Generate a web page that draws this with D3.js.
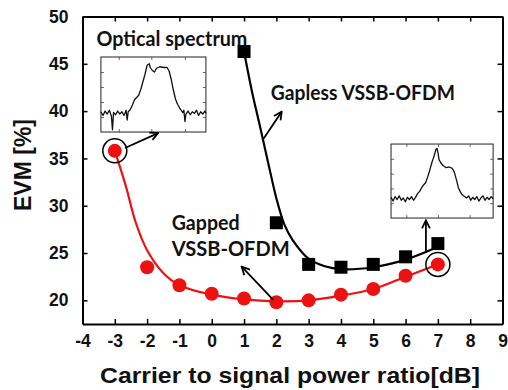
<!DOCTYPE html>
<html>
<head>
<meta charset="utf-8">
<script src="https://cdn.jsdelivr.net/npm/d3@7"></script>
<style>
  body { margin: 0; background: #fff; }
  svg { display: block; }
</style>
</head>
<body>
<script>
// measured points
const ratioDb = [-3, -2, -1, 0, 1, 2, 3, 4, 5, 6, 7];
const gappedEvm = [35.8, 23.5, 21.6, 20.7, 20.2, 19.8, 20.0, 20.6, 21.2, 22.6, 23.8];
const gaplessDb = [1, 2, 3, 4, 5, 6, 7];
const gaplessEvm = [46.3, 28.2, 23.8, 23.5, 23.8, 24.6, 26.0];

// fitted curves
const gappedFitX = [-3, -2.66, -2.35, -2, -1.5, -1, 0, 1, 2, 3, 4, 5, 6, 7];
const gappedFitY = [35.8, 32.1, 28.2, 25.3, 22.9, 21.6, 20.6, 20.1, 19.9, 20.0, 20.5, 21.2, 22.5, 23.8];
const gaplessFitX = [1, 1.25, 1.5, 1.75, 2, 2.25, 2.5, 3, 3.5, 4, 5, 6, 6.9];
const gaplessFitY = [46.3, 42.0, 38.3, 34.5, 30.8, 28.0, 26.4, 24.4, 23.6, 23.3, 23.5, 24.3, 25.5];

const xTicks = [-4, -3, -2, -1, 0, 1, 2, 3, 4, 5, 6, 7, 8, 9];
const yTicks = [20, 25, 30, 35, 40, 45, 50];

// inset spectra (relative units 0-100)
const spec1 = [[0,27],[2,22],[4,28],[6,24],[8,29],[10,21],[11,3],[12,26],[14,23],[16,28],[18,24],[20,27],[22,22],[24,29],[25,16],[26,27],[28,30],[30,36],[32,43],[34,46],[36,49],[38,57],[40,67],[42,77],[44,89],[46,91],[47,86],[49,82],[51,80],[53,85],[56,87],[60,86],[63,86],[65,81],[67,70],[69,56],[71,44],[73,37],[75,32],[77,28],[78,26],[79,29],[80,14],[81,24],[83,28],[85,23],[87,27],[89,25],[91,29],[93,22],[95,27],[97,24],[99,28],[100,25]];
const spec2 = [[0,28],[2,23],[4,29],[6,25],[8,30],[10,24],[12,27],[14,22],[16,28],[18,25],[20,29],[22,24],[24,28],[26,33],[28,36],[30,41],[32,45],[34,48],[36,56],[38,65],[40,75],[42,83],[44,93],[45,94],[46,88],[47,79],[49,74],[51,71],[54,68],[57,69],[60,67],[62,62],[64,52],[66,41],[68,35],[70,31],[72,29],[74,27],[76,30],[78,24],[80,28],[82,25],[84,29],[86,23],[88,27],[90,30],[92,24],[94,28],[96,25],[98,29],[100,26]];

const width = 508, height = 390;
const plotLeft = 82.5, plotRight = 502.5, plotTop = 16.5, plotBottom = 324;
const red = '#ee1111';

const svg = d3.select('body').append('svg')
    .attr('width', width)
    .attr('height', height)
    .style('font-family', 'Liberation Sans, Arial, sans-serif');

const defs = svg.append('defs');
defs.append('marker')
    .attr('id', 'head')
    .attr('viewBox', '0 0 10 10')
    .attr('refX', 9).attr('refY', 5)
    .attr('markerWidth', 5.5).attr('markerHeight', 5.5)
    .attr('markerUnits', 'strokeWidth')
    .attr('orient', 'auto')
  .append('path')
    .attr('d', 'M1,1 L9,5 L1,9')
    .attr('fill', 'none')
    .attr('stroke', '#000')
    .attr('stroke-width', 1.8);

const x = d3.scaleLinear().domain([-4, 9]).range([plotLeft, plotRight]);
const y = d3.scaleLinear().domain([17.5, 50]).range([plotBottom, plotTop]);

// axes
function styleAxis(g) {
  g.select('.domain').attr('stroke-width', 2);
  g.selectAll('.tick line').attr('stroke-width', 1.5);
  g.selectAll('text')
    .attr('font-size', 17.5)
    .attr('font-weight', 'bold')
    .attr('fill', '#111');
}
svg.append('g')
    .attr('transform', `translate(0,${plotBottom})`)
    .call(d3.axisBottom(x).tickValues(xTicks).tickFormat(d => String(d))
      .tickSizeInner(-5).tickSizeOuter(0).tickPadding(11))
    .call(styleAxis);
svg.append('g')
    .attr('transform', `translate(0,${plotTop})`)
    .call(d3.axisTop(x).tickValues(xTicks).tickSizeInner(-5).tickSizeOuter(0).tickFormat(''))
    .call(styleAxis);
svg.append('g')
    .attr('transform', `translate(${plotLeft},0)`)
    .call(d3.axisLeft(y).tickValues(yTicks).tickFormat(d => String(d))
      .tickSizeInner(-5).tickSizeOuter(0).tickPadding(14))
    .call(styleAxis);
svg.append('g')
    .attr('transform', `translate(${plotRight},0)`)
    .call(d3.axisRight(y).tickValues(yTicks).tickSizeInner(-5).tickSizeOuter(0).tickFormat(''))
    .call(styleAxis);

// axis titles
svg.append('text')
    .attr('x', 100).attr('y', 383)
    .attr('font-size', 22).attr('font-weight', 'bold')
    .attr('fill', '#111')
    .attr('textLength', 380)
    .attr('lengthAdjust', 'spacingAndGlyphs')
    .text('Carrier to signal power ratio[dB]');
svg.append('text')
    .attr('transform', 'translate(31,165) rotate(-90)')
    .attr('text-anchor', 'middle')
    .attr('font-size', 23).attr('font-weight', 'bold')
    .attr('fill', '#111')
    .text('EVM [%]');

// fitted curves
const fitLine = d3.line()
    .x(d => x(d[0]))
    .y(d => y(d[1]))
    .curve(d3.curveCatmullRom.alpha(0.5));

svg.append('path')
    .datum(gappedFitX.map((v, i) => [v, gappedFitY[i]]))
    .attr('d', fitLine)
    .attr('fill', 'none')
    .attr('stroke', red)
    .attr('stroke-width', 2.2);
svg.append('path')
    .datum(gaplessFitX.map((v, i) => [v, gaplessFitY[i]]))
    .attr('d', fitLine)
    .attr('fill', 'none')
    .attr('stroke', '#000')
    .attr('stroke-width', 2.2);

// markers
svg.selectAll('.sq')
    .data(gaplessDb)
    .enter().append('rect')
      .attr('x', (d) => x(d) - 6.5)
      .attr('y', (d, i) => y(gaplessEvm[i]) - 6.5)
      .attr('width', 13)
      .attr('height', 13)
      .attr('fill', '#000');
svg.selectAll('.dot')
    .data(ratioDb)
    .enter().append('circle')
      .attr('cx', (d) => x(d))
      .attr('cy', (d, i) => y(gappedEvm[i]))
      .attr('r', 7)
      .attr('fill', red);

// rings around the spectrum points
[0, ratioDb.length - 1].forEach(i => {
  svg.append('circle')
      .attr('cx', x(ratioDb[i]))
      .attr('cy', y(gappedEvm[i]))
      .attr('r', 12)
      .attr('fill', 'none')
      .attr('stroke', '#000')
      .attr('stroke-width', 1.5);
});

// insets
function inset(data, x0, x1, y0, y1, tickX) {
  const ix = d3.scaleLinear().domain([0, 100]).range([x(x0), x(x1)]);
  const iy = d3.scaleLinear().domain([0, 100]).range([y(y0), y(y1)]);
  const g = svg.append('g');
  g.append('rect')
      .attr('x', ix(0)).attr('y', iy(100))
      .attr('width', ix(100) - ix(0)).attr('height', iy(0) - iy(100))
      .attr('fill', '#fff')
      .attr('stroke', '#222')
      .attr('stroke-width', 1);
  const ticks = [
    [d3.axisBottom(ix).tickValues(tickX), `translate(0,${iy(0)})`],
    [d3.axisTop(ix).tickValues(tickX), `translate(0,${iy(100)})`],
    [d3.axisLeft(iy).tickValues([20, 40, 60, 80]), `translate(${ix(0)},0)`],
    [d3.axisRight(iy).tickValues([20, 40, 60, 80]), `translate(${ix(100)},0)`]
  ];
  ticks.forEach(([ax, tr]) => {
    const a = g.append('g')
        .attr('transform', tr)
        .call(ax.tickSizeInner(-3).tickSizeOuter(0).tickFormat(''));
    a.select('.domain').remove();
    a.selectAll('.tick line').attr('stroke', '#444').attr('stroke-width', 0.8);
  });
  g.append('path')
      .datum(data)
      .attr('d', d3.line().x(d => ix(d[0])).y(d => iy(d[1])))
      .attr('fill', 'none')
      .attr('stroke', '#111')
      .attr('stroke-width', 1.3)
      .attr('stroke-linejoin', 'round');
}
inset(spec1, -3.43, -0.18, 37.79, 45.72, [17, 48, 80]);
inset(spec2, 5.55, 8.71, 28.7, 36.52, [15, 46, 77]);

// arrows (data units)
const arrows = [
  [-2.685, 36.1, -1.66, 37.68],
  [6.63, 25.0, 6.63, 28.45],
  [1.577, 36.95, 2.165, 39.94],
  [1.905, 20.04, 0.927, 23.56]
];
svg.selectAll('.arrow')
    .data(arrows)
    .enter().append('line')
      .attr('x1', d => x(d[0])).attr('y1', d => y(d[1]))
      .attr('x2', d => x(d[2])).attr('y2', d => y(d[3]))
      .attr('stroke', '#000')
      .attr('stroke-width', 1.8)
      .attr('marker-end', 'url(#head)');

// labels
const labelFont = 'Lato, Open Sans, sans-serif';
function label(t, xv, yv, len) {
  svg.append('text')
      .attr('x', x(xv)).attr('y', y(yv))
      .attr('font-family', labelFont)
      .attr('font-size', 20).attr('font-weight', 'bold')
      .attr('fill', '#111')
      .attr('textLength', len)
      .attr('lengthAdjust', 'spacingAndGlyphs')
      .text(t);
}
label('Optical spectrum', -3.57, 46.9, 151);
label('Gapless VSSB-OFDM', 1.83, 41.2, 184);
label('Gapped', -1.24, 27.4, 68);
label('VSSB-OFDM', -1.24, 24.7, 118);
</script>
</body>
</html>
